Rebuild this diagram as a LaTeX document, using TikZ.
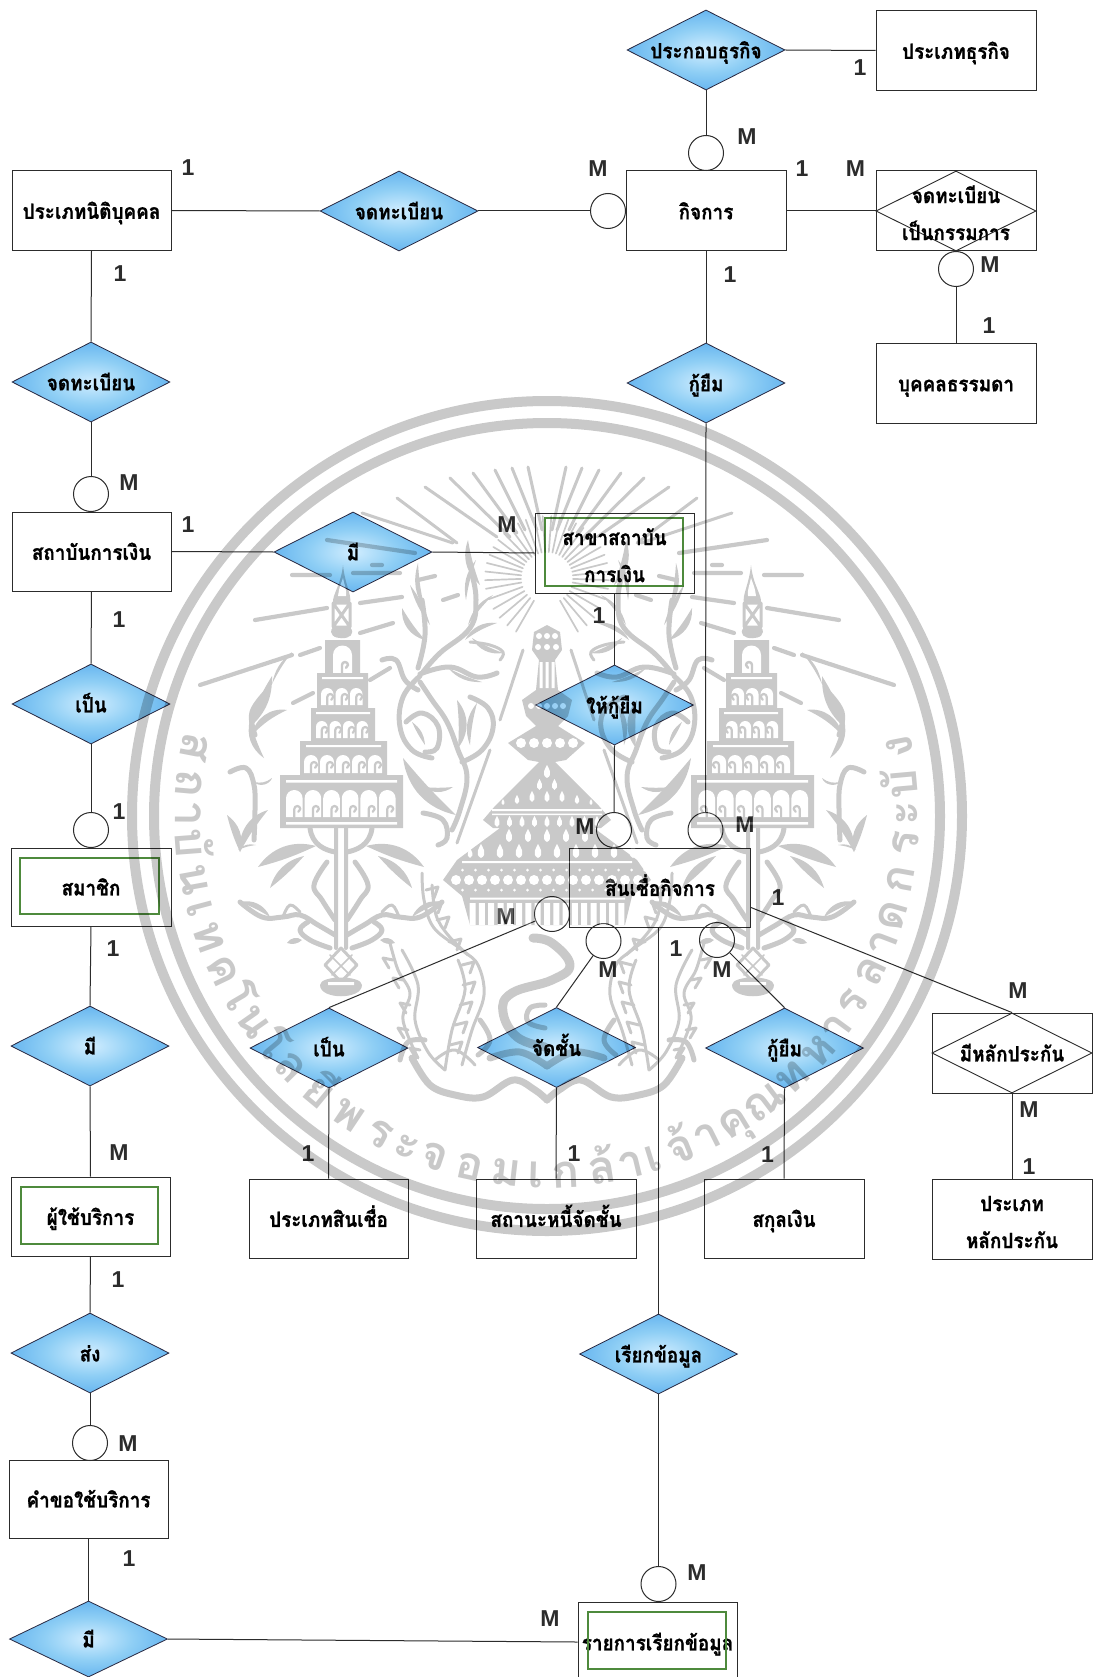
\documentclass[tikz,border=0pt]{standalone}
\usepackage{fontspec}
\newfontfamily\thaifont[Script=Thai,FakeStretch=.9,FakeBold=.9]{Loma}
\newfontfamily\sealfont[Script=Thai]{Loma}
\newfontfamily\latnfont{Liberation Sans}
\usetikzlibrary{shapes.geometric,calc}
\pgfdeclareradialshading{diash}{\pgfpointorigin}{rgb(0bp)=(0.82,0.93,1); rgb(14bp)=(0.56,0.81,0.96); rgb(30bp)=(0.34,0.67,0.93); rgb(44bp)=(0.22,0.57,0.87); rgb(50bp)=(0.2,0.53,0.84)}
\newcommand\thfont{\thaifont\bfseries\fontsize{21}{37}\selectfont}
\newcommand\dtext[1]{\makebox[0pt][c]{\raisebox{-.4em}[0pt][0pt]{#1}}}
\newcommand\two[2]{\begin{tabular}{@{}c@{}}#1\\#2\end{tabular}}
\definecolor{ink}{HTML}{2C2C2C}
\definecolor{grn}{HTML}{4E8A3C}
\tikzset{
  x=1pt,y=-1pt,
  ent/.style={draw=ink,line width=1pt,inner sep=0pt,minimum width=160pt,minimum height=80pt,font=\thfont,text=black},
  weak/.style={draw=grn,line width=1.5pt,inner sep=0pt},
  dia/.style={diamond,aspect=2,draw=ink!90!blue,line width=.8pt,inner sep=0pt,minimum width=158pt,minimum height=80pt,shading=diash,font=\thfont,text=black},
  pdia/.style={diamond,aspect=2,draw=ink,line width=.9pt,inner sep=0pt,minimum width=160pt,minimum height=80pt,font=\thfont,text=black},
  opt/.style={circle,draw=ink,line width=1pt,inner sep=0pt,minimum size=35pt},
  lnk/.style={draw=ink,line width=1pt},
  lbl/.style={inner sep=0pt,font=\latnfont\bfseries\fontsize{23}{23}\selectfont,text=ink},
  ray/.style={draw=black,line width=4.2pt,line cap=round},
  fine/.style={draw=black,line width=1.7pt,line cap=round,line join=round},
  mid/.style={draw=black,line width=3pt,line cap=round,line join=round},
  vine/.style={draw=black,line width=5pt,line cap=round,line join=round},
  fat/.style={draw=black,line width=9pt,line cap=round,line join=round},
}
\newcommand\crs[6]{\fill[black] (#1,#2) to[bend left=#5] (#3,#4) to[bend right=#6] (#1,#2);}
% a row of white arches holding dark hooks
\newcommand\archrow[5]{% x-start, width, count, top, bottom
  \foreach \ak in {1,...,#3}{%
    \pgfmathsetmacro\ax{#1+(\ak-1)*#2}\pgfmathsetmacro\ar{#2/2-1}%
    \fill[white] (\ax,#5) -- (\ax,#4+\ar) arc[start angle=180,end angle=360,radius=\ar] -- ($(\ax,#5)+(2*\ar,0)$) -- cycle;
    \draw[fine,line width=2.2pt] ($(\ax,#5)+(\ar,0)$) -- ++(0,-8) arc[start angle=180,end angle=430,radius=3];
  }}
\newcommand\drop[3]{\fill[white] (#1,#2) .. controls ($(#1,#2)+(-#3*.5,-#3*.25)$) and ($(#1,#2)+(-#3*.1,-#3*.8)$) .. ($(#1,#2)+(0,-#3)$) .. controls ($(#1,#2)+(#3*.1,-#3*.8)$) and ($(#1,#2)+(#3*.5,-#3*.25)$) .. (#1,#2) -- cycle;}
\newcommand\stemleaves{%
  \draw[vine] plot[smooth,tension=.7] coordinates {(335,935) (318,925) (300,915) (283,917) (262,917) (240,902)};
  \draw[mid] plot[smooth,tension=.7] coordinates {(283,917) (290,905) (300,912)};
  \crs{240}{902}{270}{917}{40}{5}
  \draw[vine] plot[smooth,tension=.7] coordinates {(335,920) (322,900) (314,885) (327,862)};
  \crs{314}{890}{327}{862}{25}{5}
  \crs{258}{867}{316}{846}{35}{-5}
  \crs{270}{888}{304}{856}{30}{-5}
  \draw[vine] plot[smooth,tension=.7] coordinates {(330,948) (310,940) (300,930) (308,922)};
  \crs{287}{943}{302}{940}{50}{-30}
  \draw[vine] (310,828) .. controls (312,845) and (325,850) .. (335,852);
}
\newcommand\sealhalf{%
  % rays
  \foreach \a/\b/\c/\d in {327/540/415/553,292/575/330/575,353/573/400/573,255/620/327/608,360/603/402/597,200/685/292/655,300/655/320/648,360/633/393/623,293/703/313/693,370/680/390/668,372/565/382/565,418/580/435/576,443/600/458/595}{\draw[ray] (\a,\b) -- (\c,\d);}
  \foreach \a/\b/\c/\d in {362/513/453/543,397/498/457/543,425/487/497/537,450/478/510/537,473/473/517/533,495/470/525/530,512/468/537/530,528/467/542/530}{\draw[mid] (\a,\b) -- (\c,\d);}
  \foreach \a in {120,130,...,170,178,186,...,270}{\draw[fine] ($(547,578)+(\a:26)$) -- ($(547,578)+(\a:62)$);}
  % tower
  \fill[black] (343,565) .. controls (345,585) and (352,595) .. (350,603) -- (333,603) .. controls (332,595) and (341,585) .. (343,565) -- cycle;
  \fill[white] (339,590) .. controls (340,585) and (342,582) .. (343,578) .. controls (344,584) and (347,590) .. (346,596) -- (338,596) -- cycle;
  \draw[mid] (333,603) rectangle (350,627) (333,603) -- (350,627) (350,603) -- (333,627);
  \fill[black] (333,627) .. controls (322,642) and (362,642) .. (350,627) -- cycle;
  \fill[black] (325,640) rectangle (360,673);
  \fill[white] (333,655) arc[start angle=180,end angle=360,radius=9.5] -- (352,673) -- (333,673) -- cycle;
  \draw[fine,line width=2.4pt] (342,673) -- ++(0,-8) arc[start angle=180,end angle=430,radius=3];
  \fill[black] (317,673) rectangle (368,708);
  \fill[white] (322,677) rectangle (363,679);
  \archrow{321}{14.5}{3}{688}{705}
  \fill[black] (311,708) rectangle (375,741);
  \fill[white] (316,712) rectangle (370,714);
  \archrow{316}{13.5}{4}{721}{738}
  \fill[black] (300,741) rectangle (387,775);
  \fill[white] (306,745) rectangle (381,747);
  \archrow{304}{16}{5}{755}{773}
  \fill[black] (280,775) rectangle (403,828);
  \fill[white] (286,780) rectangle (397,782.5) (286,822) rectangle (397,824.5);
  \archrow{286}{18.6}{6}{790}{817}
  % stem and urn
  \draw[vine,line width=4pt] (336,828) -- (336,948) (346,828) -- (346,948);
  \draw[mid] (341,948) -- (325,965) -- (341,982) -- (357,965) -- cycle;
  \draw[fine] (330,955) -- (350,975) (352,955) -- (332,975);
  \fill[black] (320,985) .. controls (320,975) and (362,975) .. (362,985) .. controls (362,1000) and (320,1000) .. (320,985) -- cycle;
  \fill[white] (328,982) rectangle (354,985);
  \stemleaves
  \begin{scope}[shift={(682,0)},xscale=-1]\stemleaves\end{scope}
  % flames left of the tower
  \crs{292}{652}{272}{684}{-20}{-5}
  \crs{272}{676}{249}{728}{25}{-8}
  \crs{287}{710}{252}{735}{-45}{-10}
  \crs{250}{720}{264}{758}{-35}{-5}
  \draw[vine] plot[smooth,tension=.7] coordinates {(268,690) (252,712) (255,735)};
  \draw[vine] plot[smooth,tension=.7] coordinates {(230,772) (246,768) (254,785) (255,810) (254,840)};
  \crs{254}{782}{272}{778}{-60}{-25}
  \crs{227}{815}{240}{852}{35}{-5}
  \crs{240}{852}{268}{810}{40}{5}
  \crs{256}{845}{238}{850}{-30}{-8}
  % big scroll vine
  \crs{468}{540}{480}{585}{-35}{-5}
  \crs{476}{560}{466}{600}{-25}{-5}
  \draw[vine] plot[smooth,tension=.7] coordinates {(472,575) (476,600) (470,628) (440,653) (423,672)};
  \crs{493}{595}{468}{625}{-25}{-5}
  \crs{497}{623}{465}{640}{-35}{-8}
  \crs{503}{653}{472}{638}{35}{5}
  \draw[mid] plot[smooth,tension=.7] coordinates {(470,642) (490,645) (503,652) (500,660)};
  \crs{418}{563}{425}{610}{-25}{-5}
  \crs{410}{585}{430}{625}{-10}{10}
  \draw[vine] plot[smooth,tension=.7] coordinates {(422,600) (425,635) (418,668)};
  \crs{402}{608}{425}{640}{-40}{-5}
  \draw[vine] plot[smooth,tension=.7] coordinates {(382,660) (396,660) (405,680) (418,690)};
  % ring of the big scroll
  \draw[vine] plot[smooth,tension=.7] coordinates {(420,674) (450,667) (477,677) (497,673)};
  \crs{448}{668}{482}{682}{-25}{-5}
  \draw[vine] plot[smooth,tension=.7] coordinates {(420,676) (403,697) (400,727) (412,750) (432,758)};
  \draw[vine] plot[smooth,tension=.7] coordinates {(470,697) (488,708) (493,728) (482,750) (462,762)};
  \draw[vine] plot[smooth,tension=.7] coordinates {(420,682) (432,700) (447,722) (458,750) (467,777) (460,810) (452,830)};
  \draw[vine] plot[smooth,tension=.7] coordinates {(406,722) (422,713) (438,726) (437,748) (425,752)};
  \crs{412}{722}{425}{745}{25}{-5}
  \crs{457}{700}{458}{748}{40}{5}
  \crs{477}{703}{470}{745}{-30}{-5}
  % lower leaves
  \crs{403}{758}{456}{815}{-35}{-3}
  \crs{423}{787}{453}{787}{-35}{-5}
  \draw[vine] plot[smooth,tension=.7] coordinates {(423,813) (443,820) (447,838) (438,845)};
  % thin strokes beside the spire
  \draw[mid] (523,650) -- (500,720) (490,750) -- (457,843);
  % naga
  \draw[vine,line width=7pt] plot[smooth,tension=.6] coordinates {(412,1058) (430,1085) (455,1095) (483,1097) (513,1080) (535,1090) (547,1100)};
  \draw[mid] plot[smooth,tension=.6] coordinates {(422,873) (424,900) (434,928) (462,950) (478,965) (484,995) (472,1030) (462,1065)};
  \draw[mid] plot[smooth,tension=.6] coordinates {(432,885) (436,915) (448,935) (468,955)};
  \draw[mid] plot[smooth,tension=.6] coordinates {(390,943) (398,970) (410,993) (403,1020) (418,1058)};
  \draw[mid] plot[smooth,tension=.6] coordinates {(402,950) (418,985) (415,1020) (428,1052) (445,1070)};
  \draw[mid] plot[smooth,tension=.6] coordinates {(458,960) (465,990) (452,1030) (445,1070)};
  \foreach \a/\b in {426/890,430/905,437/920,449/942,462/965,463/985,460/1005,455/1025,450/1045}{\draw[mid] (\a,\b) -- ++(12,-3) -- ++(-4,11);}
  \foreach \a/\b in {393/960,403/980,410/1005,408/1030,420/1050}{\draw[mid] (\a,\b) -- ++(-10,-2) -- ++(6,10);}
  \draw[vine] plot[smooth,tension=.7] coordinates {(400,1060) (408,1042) (425,1040)};
  \draw[mid] plot[smooth,tension=.7] coordinates {(435,1060) (455,1050) (475,1065)};
  \draw[vine] plot[smooth,tension=.7] coordinates {(480,1020) (490,1040) (478,1055)};
  % lower arcs under the serpent
  \draw[vine,line width=7pt] plot[smooth,tension=.6] coordinates {(490,1058) (520,1052) (547,1066)};
}
\begin{document}
\begin{tikzpicture}
\clip (0,0) rectangle (1094,1677);
\fill[white] (0,0) rectangle (1094,1677);
% entities
\node[ent] (rPT) at (956,50.5) {\dtext{ประเภทธุรกิจ}};
\node[ent] (rK) at (706,211) {\dtext{กิจการ}};
\node[ent] (rD) at (956,211) {};
\node[ent] (rB) at (956,383) {\dtext{บุคคลธรรมดา}};
\node[ent,minimum width=159pt] (rN) at (91.5,210.5) {\dtext{ประเภทนิติบุคคล}};
\node[ent,minimum width=159pt,minimum height=79pt] (rF) at (91.5,551.5) {\dtext{สถาบันการเงิน}};
\node[ent,minimum width=159pt] (rS) at (614.5,553) {\dtext{\two{สาขาสถาบัน}{การเงิน}}};
\node[weak,minimum width=138pt,minimum height=68pt] (wS) at (614,552) {};
\node[ent,minimum height=78pt] (rMem) at (91,887) {\dtext{สมาชิก}};
\node[weak,minimum width=139pt,minimum height=56pt] (wMem) at (89.5,886) {};
\node[ent,minimum width=159pt,minimum height=79pt] (rU) at (90.5,1216.5) {\dtext{ผู้ใช้บริการ}};
\node[weak,minimum width=137pt,minimum height=57pt] (wU) at (89.5,1215.5) {};
\node[ent,minimum width=159pt,minimum height=78pt] (rR) at (88.5,1499) {\dtext{คำขอใช้บริการ}};
\node[ent,minimum width=159pt] (rQ) at (657.5,1642) {\dtext{รายการเรียกข้อมูล}};
\node[weak,minimum width=138pt,minimum height=57pt] (wQ) at (657,1640.5) {};
\node[ent,minimum width=181pt,minimum height=79pt] (rC) at (660,887.5) {\dtext{สินเชื่อกิจการ}};
\node[ent] (rCT) at (1012,1219) {\dtext{\two{ประเภท}{หลักประกัน}}};
\node[ent] (rCB) at (1012,1053) {};
\node[ent,minimum height=79pt] (rMon) at (784,1218.5) {\dtext{สกุลเงิน}};
\node[ent,minimum height=79pt] (rDebt) at (556,1218.5) {\dtext{สถานะหนี้จัดชั้น}};
\node[ent,minimum width=159pt,minimum height=79pt] (rType) at (328.5,1218.5) {\dtext{ประเภทสินเชื่อ}};
% relationships
\node[dia] (dPT) at (706,50) {\dtext{ประกอบธุรกิจ}};
\node[dia] (dReg) at (399,211) {\dtext{จดทะเบียน}};
\node[dia] (dL) at (706,383) {\dtext{กู้ยืม}};
\node[dia] (dR2) at (91,382) {\dtext{จดทะเบียน}};
\node[dia] (dM) at (353,552) {\dtext{มี}};
\node[dia] (dG) at (614.5,705) {\dtext{ให้กู้ยืม}};
\node[dia] (dB) at (91,704) {\dtext{เป็น}};
\node[dia] (dH) at (90,1046) {\dtext{มี}};
\node[dia] (dS) at (90,1353) {\dtext{ส่ง}};
\node[dia,minimum height=76pt] (dH2) at (88.5,1639) {\dtext{มี}};
\node[dia] (dT) at (329,1048) {\dtext{เป็น}};
\node[dia] (dC) at (556.5,1047.5) {\dtext{จัดชั้น}};
\node[dia] (dP) at (784.5,1048) {\dtext{กู้ยืม}};
\node[dia] (dQ) at (658.5,1354) {\dtext{เรียกข้อมูล}};
\node[pdia] (dD) at (956,211) {\dtext{\two{จดทะเบียน}{เป็นกรรมการ}}};
\node[pdia] (dCB) at (1012,1053) {\dtext{มีหลักประกัน}};
% optional circles
\node[opt] (cK1) at (706,153) {};
\node[opt] (cK2) at (608,211) {};
\node[opt] (cD) at (956,269) {};
\node[opt] (cF) at (91,494) {};
\node[opt] (cMem) at (91,830) {};
\node[opt] (cR) at (90,1443) {};
\node[opt] (cG) at (614,830) {};
\node[opt] (cL) at (705.5,830) {};
\node[opt] (cT) at (552,914) {};
\node[opt] (cC) at (603.5,941) {};
\node[opt] (cP) at (717,940) {};
\node[opt] (cQ) at (658.5,1584) {};
% connectors
\draw[lnk] (dPT.east) -- (rPT.west);
\draw[lnk] (dPT.south) -- (cK1.north);
\draw[lnk] (rN.east) -- (dReg.west);
\draw[lnk] (dReg.east) -- (cK2.west);
\draw[lnk] (rK.east) -- (dD.west);
\draw[lnk] (rK.south) -- (dL.north);
\draw[lnk] (dL.south) -- (cL.north);
\draw[lnk] (cD.south) -- (rB.north);
\draw[lnk] (rN.south) -- (dR2.north);
\draw[lnk] (dR2.south) -- (cF.north);
\draw[lnk] (rF.east) -- (dM.west);
\draw[lnk] (dM.east) -- (rS.west);
\draw[lnk] (rS.south) -- (dG.north);
\draw[lnk] (dG.south) -- (cG.north);
\draw[lnk] (rF.south) -- (dB.north);
\draw[lnk] (dB.south) -- (cMem.north);
\draw[lnk] (rMem.south) -- (dH.north);
\draw[lnk] (dH.south) -- (rU.north);
\draw[lnk] (rU.south) -- (dS.north);
\draw[lnk] (dS.south) -- (cR.north);
\draw[lnk] (rR.south) -- (dH2.north);
\draw[lnk] (dH2.east) -- (rQ.west);
\draw[lnk] (dT.north) -- (cT);
\draw[lnk] (dC.north) -- (cC);
\draw[lnk] (dP.north) -- (cP);
\draw[lnk] ([yshift=-20pt]rC.east) -- (dCB.north);
\draw[lnk] (dT.south) -- (rType.north);
\draw[lnk] (dC.south) -- (rDebt.north);
\draw[lnk] (dP.south) -- (rMon.north);
\draw[lnk] (dCB.south) -- (rCT.north);
\draw[lnk] (dQ.north |- rC.south) -- (dQ.north);
\draw[lnk] (dQ.south) -- (cQ.north);
% labels
\foreach \nm/\tx/\px/\py in {a/1/860/68,b/M/747/137,c/M/598/169,d/1/802/169,e/M/855.5/169,f/1/730/275,g/M/990/265,h/1/989/326,
 i/1/188/168,j/1/120/274,k/M/129/483,l/1/188/525,m/M/507/525,n/1/119/620,o/1/119/812,p/1/113/949,q/M/119/1153,r/1/118/1280,
 s/M/128/1444,t/1/129/1559,u/M/550/1619,v/M/697/1573,w/1/599/616,x/M/585/827,y/M/745/825,z/1/778/898,
 aa/1/676/949,ab/M/608/970,ac/M/722/970,ad/M/506/917,ae/1/308/1154,af/1/574/1154,ag/1/767.5/1155,ah/M/1018/991,ai/M/1029/1110,aj/1/1029/1167}{
 \node[lbl] (lab\nm) at (\px,\py) {\tx};
}
% watermark seal, laid over the diagram like a print-through
\begin{scope}[transparency group,opacity=.21]
  \draw[draw=black,line width=10pt] (547,816) circle[radius=415];
  \draw[draw=black,line width=10pt] (547,816) circle[radius=393];
  \sealhalf
  \begin{scope}[shift={(1094,0)},xscale=-1]\sealhalf\end{scope}
  % central serpent
  \draw[fat] plot[smooth,tension=.7] coordinates {(533,938) (552,943) (570,965) (552,980) (512,993) (503,1012) (517,1037) (545,1047)};
  \draw[vine] plot[smooth,tension=.7] coordinates {(545,1005) (530,1008) (528,1022) (545,1028)};
  % central spire
  \fill[black] (547,625) -- (560,632) -- (562,650) -- (555,660) -- (558,690) -- (572,700) -- (568,716) -- (558,726) -- (585,743) -- (566,760) -- (555,762) -- (599,806) -- (611,820) -- (601,828) -- (594,828) -- (637,860) -- (651,880) -- (632,896) -- (625,925) -- (470,925) -- (462,896) -- (443,880) -- (457,860) -- (500,828) -- (493,828) -- (483,820) -- (495,806) -- (539,762) -- (528,760) -- (508,743) -- (536,726) -- (526,716) -- (522,700) -- (536,690) -- (539,660) -- (532,650) -- (534,632) -- cycle;
  \foreach \yy/\ww in {636/8,647/9}{\foreach \k in {-1,0,1}{\fill[white] (547+\k*\ww,\yy) circle[radius=3];}}
  \foreach \xx in {541,547,553}{\fill[white] (\xx-1.5,662) rectangle (\xx+1.5,688);}
  \foreach \k in {-2,...,2}{\fill[white] (547+\k*8,706) circle[radius=3];}
  \foreach \k in {-2,...,2}{\fill[white] (547+\k*13,743) circle[radius=5];}
  \foreach \k in {-3,3}{\fill[white] (547+\k*11.5,735) circle[radius=2] (547+\k*11.5,751) circle[radius=2];}
  \drop{547}{778}{13}
  \drop{539.5}{790}{11}\drop{554.5}{790}{11}
  \drop{532}{802}{11}\drop{547}{802}{11}\drop{562}{802}{11}
  \drop{517}{804}{9}\drop{577}{804}{9}\drop{503}{805}{6}\drop{591}{805}{6}
  \fill[white] (492,809) rectangle (602,811) (492,813.5) rectangle (602,815);
  \foreach \k in {-4,...,4}{\drop{547+\k*12.5}{827}{11}}
  \foreach \k in {-2,...,2}{\drop{547+\k*19}{842}{13}}
  \foreach \k in {-4,...,4}{\drop{547.5+\k*19+9.5}{858}{14}}
  \drop{470}{858}{10}
  \fill[white] (462,861) rectangle (632,863);
  \foreach \k in {-7,...,7}{\fill[white] (547+\k*13,880) circle[radius=5];\fill[white] (547+\k*13+6.5,870) circle[radius=1.5];\fill[white] (547+\k*13+6.5,890) circle[radius=1.5];}
  \fill[white] (470,897.5) rectangle (625,899.5);
  \foreach \k in {-8,...,8}{\fill[white] ($(547,903)+(\k*9.3-3,0)$) rectangle ($(547,925)+(\k*9.3+3,0)$);}
  % institute name on the arc
  \xdef\acc{0}
  \foreach \cc/\ww [count=\ci] in {ส/1,ถ/1,า/.6,บั/1,น/1,เ/.6,ท/1,ค/1,โ/.6,น/1,โ/.6,ล/1,ยี/1,พ/1,ร/1,ะ/.6,จ/1,อ/1,ม/1,เ/.6,ก/1,ล้/1,า/.6,เ/.6,จ้/1,า/.6,คุ/1,ณ/1,ท/1,ห/1,า/.6,ร/1,ล/1,า/.6,ด/1,ก/1,ร/1,ะ/.6,บั/1,ง/1}{
    \pgfmathsetmacro\tta{-104+(\acc+\ww/2)*208/35.2}
    \node[inner sep=0pt,anchor=base,rotate=\tta,text=black,font=\sealfont\bfseries\fontsize{46}{46}\selectfont] (sealch\ci) at ({547+372*sin(\tta)},{816+372*cos(\tta)}) {\cc};
    \pgfmathsetmacro\nacc{\acc+\ww}\xdef\acc{\nacc}
  }
\end{scope}
\end{tikzpicture}
\end{document}
